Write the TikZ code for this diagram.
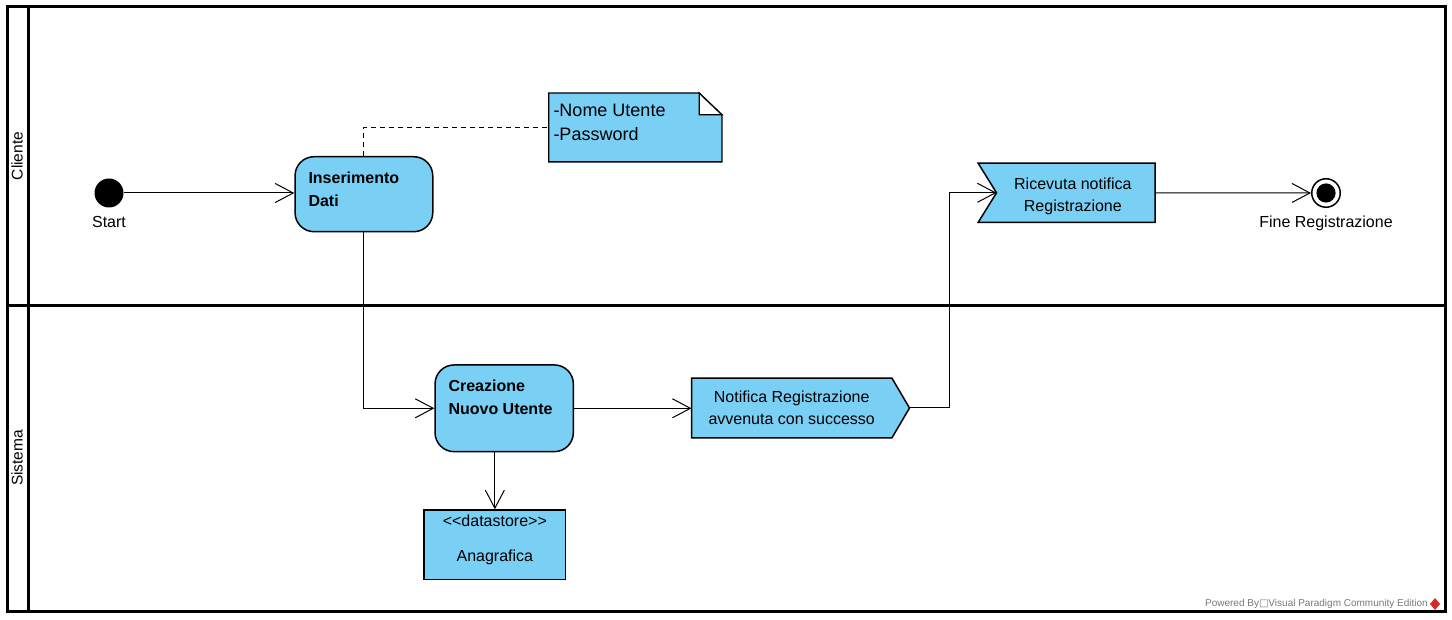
\documentclass[tikz,border=0pt]{standalone}
\usepackage{fontspec}
\setmainfont{Liberation Sans}
\newfontfamily\boxglyph{DejaVu Sans}
\usetikzlibrary{arrows.meta}
\usetikzlibrary{positioning}
\usetikzlibrary{backgrounds}
\definecolor{vpblue}{RGB}{122,207,245}
\definecolor{vpred}{RGB}{214,40,40}
\definecolor{wmgray}{RGB}{120,120,120}
\tikzset{
  lane/.style={line width=3pt},
  lanename/.style={rotate=90,inner sep=0,font=\fontsize{15.5}{18}\selectfont},
  startnode/.style={circle,fill=black,minimum size=29pt,inner sep=0},
  endnode/.style={circle,draw,line width=1.5pt,fill=white,minimum size=28.5pt,inner sep=0,
    path picture={\fill[black] (path picture bounding box.center) circle[radius=9.6pt];}},
  lbl/.style={inner sep=0,font=\fontsize{16}{19}\selectfont},
  act/.style={draw,fill=vpblue,rounded corners=19pt,line width=1.5pt,inner sep=0},
  acttext/.style={anchor=north west,align=left,inner sep=0,font=\fontsize{16}{23}\selectfont\bfseries},
  sig/.style={align=center,inner sep=0,font=\fontsize{16}{22}\selectfont},
  sigshape/.style={draw,fill=vpblue,line width=1.5pt},
  notebox/.style={draw,fill=vpblue,line width=1.3pt},
  notetext/.style={anchor=north west,align=left,inner sep=0,font=\fontsize{18}{24}\selectfont},
  store/.style={draw,fill=vpblue,line width=1.5pt,inner sep=0},
  storetext/.style={align=center,inner sep=0,font=\fontsize{16}{35.3}\selectfont},
  flow/.style={-{Straight Barb[length=18pt,width=19pt]},line width=1pt},
  link/.style={line width=1pt,dash pattern=on 5pt off 4pt},
  wm/.style={inner sep=0,text=wmgray,font=\fontsize{10}{12}\selectfont}
}

\begin{document}
\begin{tikzpicture}[x=1pt,y=-1pt]
    \useasboundingbox (0,0) rectangle (1452,620);
    \draw[lane] (7.5,7) rectangle (1445,611);
    \draw[lane] (28,7) -- (28,611);
    \draw[lane] (7.5,306) -- (1445,306);
    \node[lanename] (cliente) at (17,156) {Cliente};
    \node[lanename] (sistema) at (17,458) {Sistema};

    \node[startnode] (start) at (109,193) {};
    \node[lbl,below=8pt of start] (startlbl) {Start};

    \node[act,minimum width=137.7pt,minimum height=75pt] (ins) at (363.9,194.2) {};
    \node[acttext] (instxt) at ([shift={(14,16)}]ins.north west) {Inserimento\\Dati};

    \node[inner sep=0,minimum width=172.7pt,minimum height=68.4pt] (note) at (635.35,127.5) {};
    \node[notetext] (notetxt) at ([shift={(4.5,10.5)}]note.north west) {-Nome Utente\\-Password};

    \node[act,minimum width=138.3pt,minimum height=86.7pt] (crea) at (504.2,408.3) {};
    \node[acttext] (creatxt) at ([shift={(14,15.5)}]crea.north west) {Creazione\\Nuovo Utente};

    \node[store,minimum width=141.7pt,minimum height=69.3pt] (ds) at (494.85,544.65) {};
    \node[storetext] (dstxt) at ([shift={(0,-4.5)}]ds.center) {<\kern0pt<datastore>\kern0pt>\\Anagrafica};

    \node[sig,minimum width=200pt,minimum height=59.4pt] (notif) at (791.7,408) {Notifica Registrazione\\avvenuta con successo};
    \coordinate (notiftip) at ([shift={(17.6,0)}]notif.east);

    \node[inner sep=0,minimum width=158.3pt,minimum height=59pt] (ricev) at (1075.85,192.8) {};
    \node[sig] (ricevtxt) at ([shift={(-3,3.4)}]ricev.center) {Ricevuta notifica\\Registrazione};

    \node[endnode] (fine) at (1326,193) {};
    \node[lbl,below=8pt of fine] (finelbl) {Fine Registrazione};

    \begin{scope}[on background layer]
      \draw[notebox] (note.south west) -- (note.north west) -- ([shift={(-22.7,0)}]note.north east)
        -- ([shift={(0,21.7)}]note.north east) -- (note.south east) -- cycle;
      \draw[notebox,fill=white] ([shift={(-22.7,0)}]note.north east) -- ([shift={(-22.7,21.7)}]note.north east)
        -- ([shift={(0,21.7)}]note.north east) -- cycle;
      \draw[sigshape] (notif.north west) -- (notif.north east) -- (notiftip) -- (notif.south east)
        -- (notif.south west) -- cycle;
      \draw[sigshape] ([shift={(-18.4,0)}]ricev.north west) -- (ricev.north east) -- (ricev.south east)
        -- ([shift={(-18.4,0)}]ricev.south west) -- (ricev.west) -- cycle;
    \end{scope}

    \draw[flow] (start) -- (start -| ins.west);
    \draw[link] (ins.north) |- (note.west);
    \draw[flow] (ins.south) |- (crea.west);
    \draw[flow] (crea.east) -- (crea.east -| notif.west);
    \draw[flow] (ds.north |- crea.south) -- (ds.north);
    \draw[flow] (notiftip) -- ++(40,0) |- (ricev.west);
    \draw[flow] (ricev.east) -- (fine);

    \node[wm,anchor=east] (vpmark) at (1428,604) {Powered By{\boxglyph □}Visual Paradigm Community Edition};
    \fill[vpred] (1435,598) -- (1440,604) -- (1435,610) -- (1430,604) -- cycle;
  \end{tikzpicture}
\end{document}
